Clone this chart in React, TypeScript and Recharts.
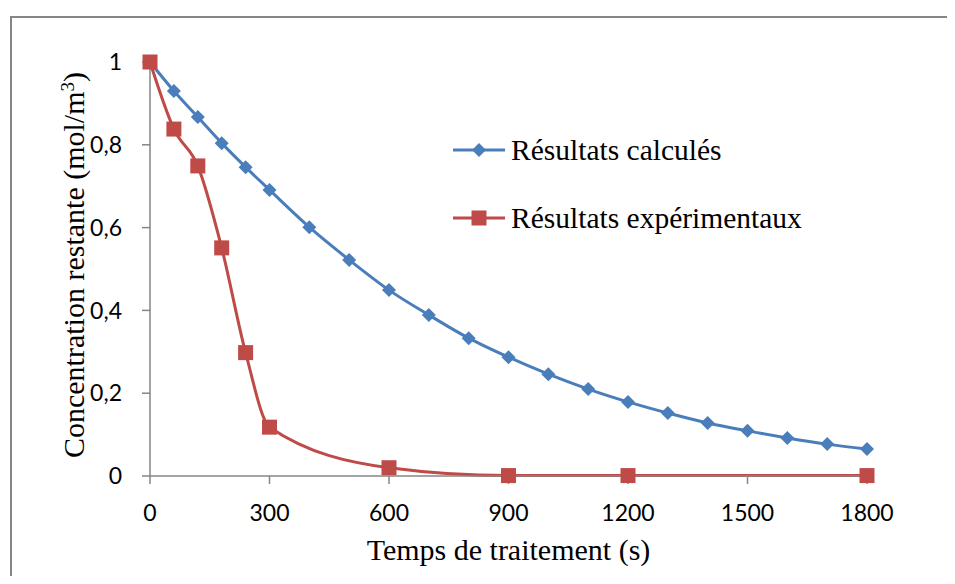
import React from 'react';
import { LineChart, Line, XAxis, YAxis, Legend, Label } from 'recharts';

const BLUE = '#4a7ebb';
const RED = '#be4b48';
const AXIS = '#868686';

// temps (s)
const calcTimes = [0, 60, 120, 180, 240, 300, 400, 500, 600, 700, 800, 900, 1000, 1100, 1200, 1300, 1400, 1500, 1600, 1700, 1800];
const calcValues = [1, 0.93, 0.867, 0.804, 0.746, 0.691, 0.601, 0.522, 0.449, 0.389, 0.333, 0.287, 0.246, 0.21, 0.179, 0.152, 0.128, 0.109, 0.092, 0.077, 0.065];

const expTimes = [0, 60, 120, 180, 240, 300, 600, 900, 1200, 1800];
const expValues = [1, 0.838, 0.749, 0.551, 0.298, 0.118, 0.02, 0.001, 0.001, 0.001];

const xTicks = [0, 300, 600, 900, 1200, 1500, 1800];
const yTicks = [0, 0.2, 0.4, 0.6, 0.8, 1];

const seriesNames = ['Résultats calculés', 'Résultats expérimentaux'];

const calcData = calcTimes.map((t, i) => ({ t, c: calcValues[i] }));
const expData = expTimes.map((t, i) => ({ t, c: expValues[i] }));

const fmtY = (v: number) => String(v).replace('.', ',');

const Diamond = ({ cx, cy, fill, r = 7 }: any) => (
  <path d={`M${cx},${cy - r} L${cx + r},${cy} L${cx},${cy + r} L${cx - r},${cy} Z`} fill={fill} />
);

const Square = ({ cx, cy, fill, r = 7.5 }: any) => (
  <rect x={cx - r} y={cy - r} width={r * 2} height={r * 2} fill={fill} />
);

const LegendBox = () => (
  <div style={{ fontFamily: '"Liberation Serif", serif', fontSize: 29.5, color: '#000' }}>
    {seriesNames.map((name, i) => (
      <div key={name} style={{ display: 'flex', alignItems: 'center', height: 40, marginBottom: i === 0 ? 28 : 0 }}>
        <svg width={56} height={20} style={{ marginRight: 2 }}>
          <line x1={0} y1={10} x2={52} y2={10} stroke={i === 0 ? BLUE : RED} strokeWidth={3} />
          {i === 0 ? <Diamond cx={26} cy={10} fill={BLUE} /> : <Square cx={26} cy={10} fill={RED} />}
        </svg>
        <span>{name}</span>
      </div>
    ))}
  </div>
);

const YTitle = ({ viewBox }: any) => {
  const cx = 84;
  const cy = viewBox.y + viewBox.height / 2 - 4;
  return (
    <text
      x={cx}
      y={cy}
      transform={`rotate(-90 ${cx} ${cy})`}
      textAnchor="middle"
      fontFamily='"Liberation Serif", serif'
      fontSize={30}
      fill="#000"
    >
      Concentration restante (mol/m
      <tspan dy={-10} fontSize={19}>3</tspan>
      <tspan dy={10}>)</tspan>
    </text>
  );
};

const App: React.FC = () => {
  return (
    <div style={{ position: 'relative', width: 939, height: 568, overflow: 'hidden', background: '#fff' }}>
      <div
        style={{
          position: 'absolute',
          left: 2,
          top: 8,
          width: 1000,
          height: 700,
          border: `2px solid ${AXIS}`,
          boxSizing: 'border-box',
        }}
      />
      <div style={{ position: 'absolute', left: -8, top: -8 }}>
        <LineChart width={955} height={584} margin={{ top: 62, right: 88, bottom: 48, left: 0 }}>
          <XAxis
            type="number"
            dataKey="t"
            domain={[0, 1800]}
            ticks={xTicks}
            height={60}
            stroke={AXIS}
            strokeWidth={1.5}
            tickSize={8}
            tickMargin={21}
            tick={{ fill: '#000', fontFamily: 'Lato, sans-serif', fontSize: 23 }}
          >
            <Label
              value="Temps de traitement (s)"
              position="insideBottom"
              offset={-24}
              style={{ fontFamily: '"Liberation Serif", serif', fontSize: 30, fill: '#000' }}
            />
          </XAxis>
          <YAxis
            type="number"
            domain={[0, 1]}
            ticks={yTicks}
            width={150}
            stroke={AXIS}
            strokeWidth={1.5}
            tickSize={8}
            tickMargin={20}
            tickFormatter={fmtY}
            tick={{ fill: '#000', fontFamily: 'Lato, sans-serif', fontSize: 23 }}
          >
            <Label content={<YTitle />} />
          </YAxis>
          <Legend
            layout="vertical"
            align="center"
            verticalAlign="middle"
            content={<LegendBox />}
            wrapperStyle={{ left: 453, top: 130, width: 440 }}
          />
          <Line
            data={calcData}
            dataKey="c"
            type="monotone"
            stroke={BLUE}
            strokeWidth={3}
            dot={(p: any) => <Diamond key={`d${p.index}`} cx={p.cx} cy={p.cy} fill={BLUE} />}
            activeDot={false}
            isAnimationActive={false}
          />
          <Line
            data={expData}
            dataKey="c"
            type="monotone"
            stroke={RED}
            strokeWidth={3}
            dot={(p: any) => <Square key={`s${p.index}`} cx={p.cx} cy={p.cy} fill={RED} />}
            activeDot={false}
            isAnimationActive={false}
          />
        </LineChart>
      </div>
    </div>
  );
};

export default App;
